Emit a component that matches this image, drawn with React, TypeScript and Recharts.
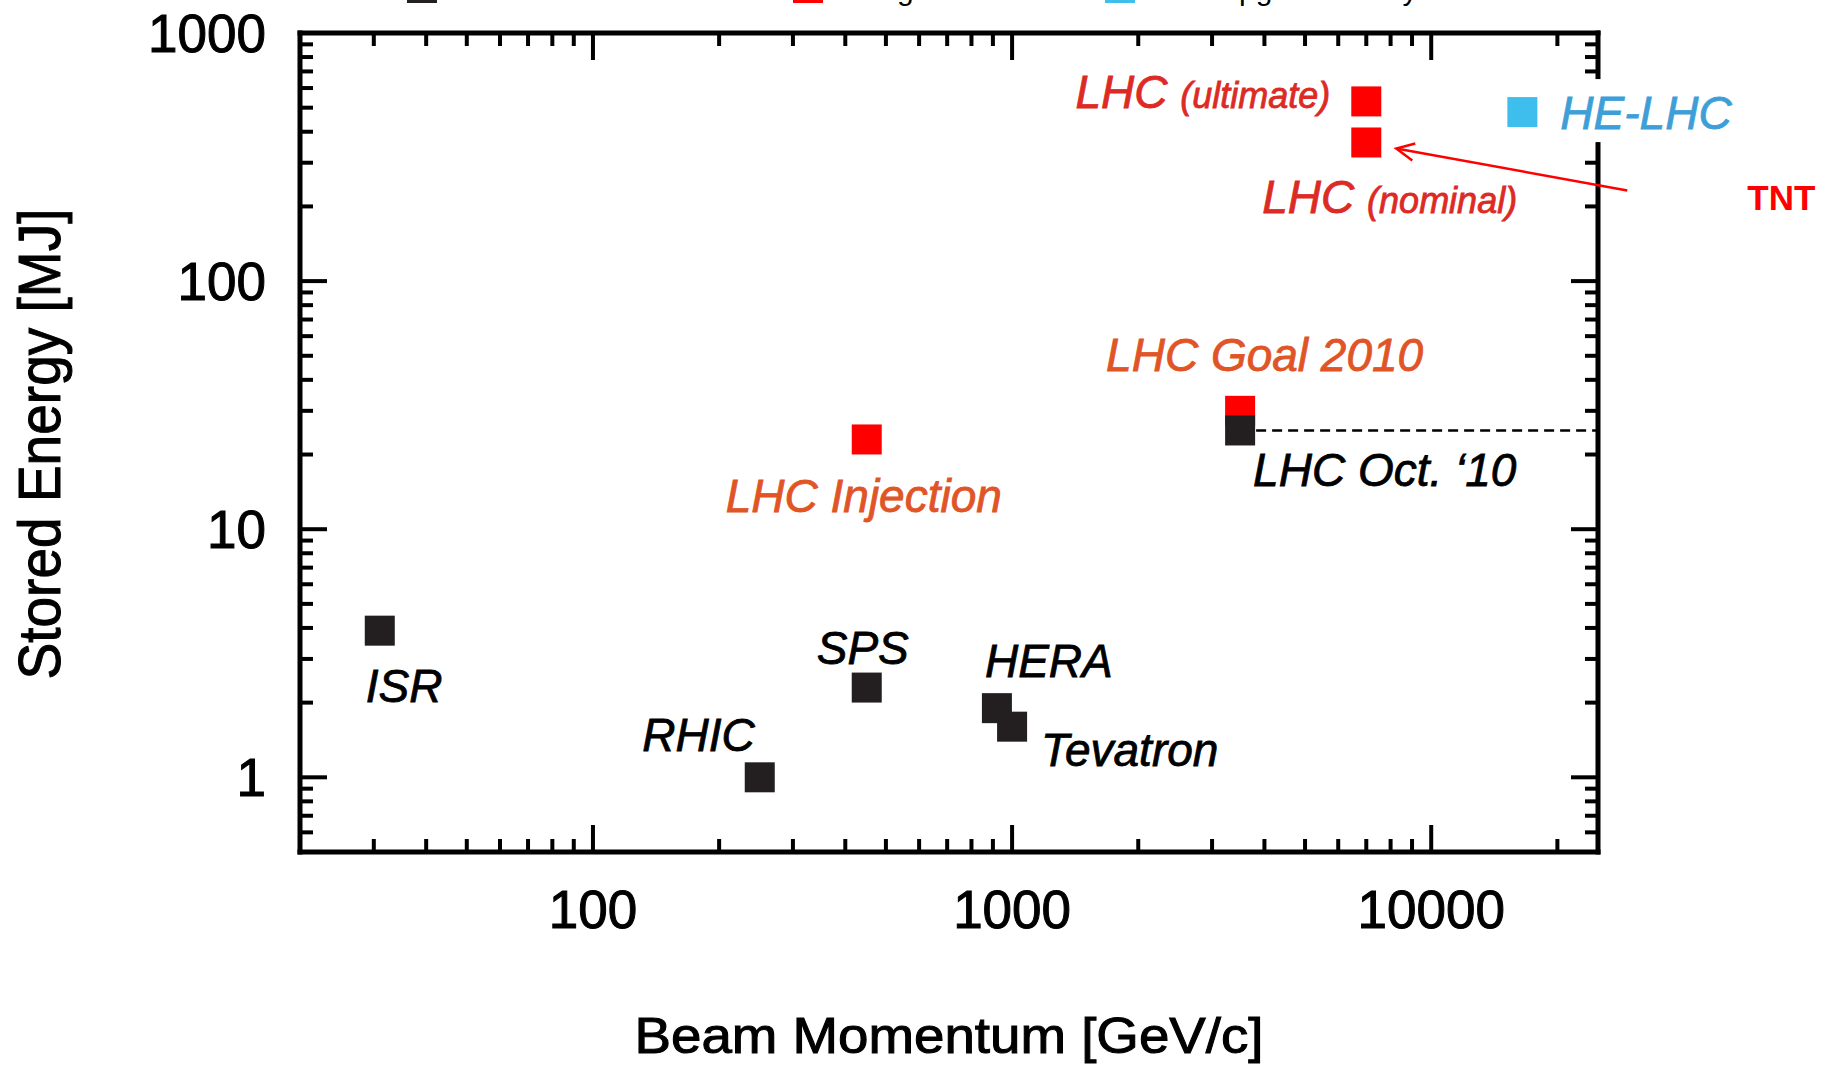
import React from 'react';
import { ScatterChart, Scatter, XAxis, YAxis, ReferenceLine } from 'recharts';

// machines that have run (black)
const ACHIEVED_NAMES = ['ISR', 'RHIC', 'SPS', 'HERA', 'Tevatron', 'LHC Oct. ‘10'];
const ACHIEVED_MOMENTUM = [31, 250, 450, 920, 1000, 3500];
const ACHIEVED_ENERGY = [3.9, 1.0, 2.3, 1.9, 1.6, 25];

// LHC design values (red)
const DESIGN_NAMES = ['LHC Injection', 'LHC Goal 2010', 'LHC (nominal)', 'LHC (ultimate)'];
const DESIGN_MOMENTUM = [450, 3500, 7000, 7000];
const DESIGN_ENERGY = [23, 30, 362, 530];

// upgrade study (blue)
const UPGRADE_NAMES = ['HE-LHC'];
const UPGRADE_MOMENTUM = [16500];
const UPGRADE_ENERGY = [480];

const X_TICKS = [
  20, 30, 40, 50, 60, 70, 80, 90,
  100, 200, 300, 400, 500, 600, 700, 800, 900,
  1000, 2000, 3000, 4000, 5000, 6000, 7000, 8000, 9000,
  10000, 20000,
];
const X_LABELS = [100, 1000, 10000];
const Y_TICKS = [
  0.5, 0.6, 0.7, 0.8, 0.9,
  1, 2, 3, 4, 5, 6, 7, 8, 9,
  10, 20, 30, 40, 50, 60, 70, 80, 90,
  100, 200, 300, 400, 500, 600, 700, 800, 900,
  1000,
];
const Y_LABELS = [1, 10, 100, 1000];

const LEGEND_NAMES = ['Achieved', 'Design', 'LHC Upgrade Study'];

const build = (names: string[], p: number[], e: number[]) =>
  names.map((name, i) => ({ name, p: p[i], e: e[i] }));

const achieved = build(ACHIEVED_NAMES, ACHIEVED_MOMENTUM, ACHIEVED_ENERGY);
const design = build(DESIGN_NAMES, DESIGN_MOMENTUM, DESIGN_ENERGY);
const upgrade = build(UPGRADE_NAMES, UPGRADE_MOMENTUM, UPGRADE_ENERGY);

const FONT = '"Liberation Sans", Arial, Helvetica, sans-serif';
const BLACK = '#231f20';
const RED = '#ff0000';
const BLUE = '#3dbeed';
const LABEL_RED = '#dc2a24';
const ORANGE = '#e05426';
const LABEL_BLUE = '#3e9fd8';

const W = 1822;
const H = 1068;
const SQ = 30;
const MAJOR = 27;
const MINOR = 13;
const TICK_W = 4;

type Note = {
  dx: number;
  dy: number;
  anchor: 'start' | 'middle' | 'end';
  color: string;
  main: string;
  sub?: string;
  box?: boolean;
  arrow?: boolean;
};

// label placement relative to each square's centre
const NOTES: Record<string, Note> = {
  ISR: { dx: -14, dy: 71, anchor: 'start', color: '#000', main: 'ISR' },
  RHIC: { dx: -5, dy: -26, anchor: 'end', color: '#000', main: 'RHIC' },
  SPS: { dx: -4, dy: -24, anchor: 'middle', color: '#000', main: 'SPS' },
  HERA: { dx: -12, dy: -31, anchor: 'start', color: '#000', main: 'HERA' },
  Tevatron: { dx: 29, dy: 39, anchor: 'start', color: '#000', main: 'Tevatron' },
  'LHC Oct. ‘10': { dx: 13, dy: 56, anchor: 'start', color: '#000', main: 'LHC Oct. ‘10' },
  'LHC Injection': { dx: -141, dy: 73, anchor: 'start', color: ORANGE, main: 'LHC Injection' },
  'LHC Goal 2010': { dx: -134, dy: -40, anchor: 'start', color: ORANGE, main: 'LHC Goal 2010' },
  'LHC (nominal)': { dx: -104, dy: 71, anchor: 'start', color: LABEL_RED, main: 'LHC', sub: '(nominal)', arrow: true },
  'LHC (ultimate)': { dx: -36, dy: 7, anchor: 'end', color: LABEL_RED, main: 'LHC', sub: '(ultimate)' },
  'HE-LHC': { dx: 38, dy: 17, anchor: 'start', color: LABEL_BLUE, main: 'HE-LHC', box: true },
};

const makeShape = (fill: string) => (props: any) => {
  const { cx, cy, payload } = props;
  const note = NOTES[payload.name];
  return (
    <g>
      <rect x={cx - SQ / 2} y={cy - SQ / 2} width={SQ} height={SQ} fill={fill} />
      {note && note.box && (
        <rect x={cx + 28} y={cy - 33} width={194} height={63} fill="#fff" />
      )}
      {note && (
        <text
          x={cx + note.dx}
          y={cy + note.dy}
          textAnchor={note.anchor}
          fill={note.color}
          stroke={note.color}
          strokeWidth={0.8}
          fontSize={46}
          fontStyle="italic"
          fontFamily={FONT}
        >
          {note.sub ? note.main + ' ' : note.main}
          {note.sub && <tspan fontSize={36}>{note.sub}</tspan>}
        </text>
      )}
      {note && note.arrow && (
        <g>
          <g stroke={RED} strokeWidth={2.5} fill="none">
            <line x1={cx + 261} y1={cy + 48} x2={cx + 30} y2={cy + 6} />
            <polyline points={`${cx + 49},${cy + 1} ${cx + 30},${cy + 6} ${cx + 46},${cy + 18}`} />
          </g>
          <text x={cx + 381} y={cy + 68} fill={RED} fontSize={35} fontWeight="bold" fontFamily={FONT}>
            TNT
          </text>
        </g>
      )}
    </g>
  );
};

const noMark = () => <g />;

const tickText = { fontSize: 53, fontFamily: FONT, fill: '#000', stroke: '#000', strokeWidth: 1 };

const BottomTick = (props: any) => {
  const { x, y, payload } = props;
  const major = X_LABELS.includes(payload.value);
  return (
    <g>
      <line x1={x} x2={x} y1={y} y2={y - (major ? MAJOR : MINOR)} stroke="#000" strokeWidth={TICK_W} />
      {major && (
        <text x={x} y={y + 76} textAnchor="middle" {...tickText}>
          {payload.value}
        </text>
      )}
    </g>
  );
};

const TopTick = (props: any) => {
  const { x, y, payload } = props;
  const major = X_LABELS.includes(payload.value);
  return <line x1={x} x2={x} y1={y} y2={y + (major ? MAJOR : MINOR)} stroke="#000" strokeWidth={TICK_W} />;
};

const LeftTick = (props: any) => {
  const { x, y, payload } = props;
  const major = Y_LABELS.includes(payload.value);
  return (
    <g>
      <line x1={x} x2={x + (major ? MAJOR : MINOR)} y1={y} y2={y} stroke="#000" strokeWidth={TICK_W} />
      {major && (
        <text x={x - 34} y={y + 19} textAnchor="end" {...tickText}>
          {payload.value}
        </text>
      )}
    </g>
  );
};

const RightTick = (props: any) => {
  const { x, y, payload } = props;
  const major = Y_LABELS.includes(payload.value);
  return <line x1={x} x2={x - (major ? MAJOR : MINOR)} y1={y} y2={y} stroke="#000" strokeWidth={TICK_W} />;
};

const frame = { stroke: '#000', strokeWidth: 5, strokeLinecap: 'square' as const };
const xDomain: [number, number] = [20, 25000];
const yDomain: [number, number] = [0.5, 1000];

const LEGEND_COLORS = [BLACK, RED, BLUE];
const LEGEND_X = [407, 793, 1105];

const App: React.FC = () => {
  return (
    <div style={{ position: 'absolute', left: 0, top: 0, width: W, height: H, background: '#fff' }}>
      <ScatterChart width={W} height={H} margin={{ top: 32, right: 223, bottom: 0, left: 0 }}>
        <XAxis
          xAxisId="b"
          dataKey="p"
          type="number"
          scale="log"
          domain={xDomain}
          ticks={X_TICKS}
          interval={0}
          height={216}
          tickSize={0}
          tickMargin={0}
          tickLine={false}
          axisLine={frame}
          tick={BottomTick}
        />
        <XAxis
          xAxisId="t"
          orientation="top"
          dataKey="p"
          type="number"
          scale="log"
          domain={xDomain}
          ticks={X_TICKS}
          interval={0}
          height={1}
          tickSize={0}
          tickMargin={0}
          tickLine={false}
          axisLine={frame}
          tick={TopTick}
        />
        <YAxis
          yAxisId="l"
          dataKey="e"
          type="number"
          scale="log"
          domain={yDomain}
          ticks={Y_TICKS}
          interval={0}
          width={300}
          tickSize={0}
          tickMargin={0}
          tickLine={false}
          axisLine={frame}
          tick={LeftTick}
        />
        <YAxis
          yAxisId="r"
          orientation="right"
          dataKey="e"
          type="number"
          scale="log"
          domain={yDomain}
          ticks={Y_TICKS}
          interval={0}
          width={1}
          tickSize={0}
          tickMargin={0}
          tickLine={false}
          axisLine={frame}
          tick={RightTick}
        />
        {/* mirrored top/right axes carry the same points, drawn invisibly */}
        <Scatter xAxisId="t" yAxisId="r" data={achieved} shape={noMark} isAnimationActive={false} />
        <ReferenceLine
          xAxisId="b"
          yAxisId="l"
          segment={[
            { x: ACHIEVED_MOMENTUM[5], y: ACHIEVED_ENERGY[5] },
            { x: xDomain[1], y: ACHIEVED_ENERGY[5] },
          ]}
          stroke="#000"
          strokeWidth={2.5}
          strokeDasharray="10 6"
          ifOverflow="visible"
        />
        <Scatter xAxisId="b" yAxisId="l" data={design} shape={makeShape(RED)} isAnimationActive={false} zIndex={2000} />
        <Scatter xAxisId="b" yAxisId="l" data={upgrade} shape={makeShape(BLUE)} isAnimationActive={false} zIndex={2000} />
        <Scatter xAxisId="b" yAxisId="l" data={achieved} shape={makeShape(BLACK)} isAnimationActive={false} zIndex={2000} />
      </ScatterChart>

      {/* axis titles and the legend row running off the top edge */}
      <svg
        width={W}
        height={H}
        style={{ position: 'absolute', left: 0, top: 0, pointerEvents: 'none' }}
        fontFamily={FONT}
      >
        {LEGEND_NAMES.map((name, i) => (
          <g key={name}>
            <rect x={LEGEND_X[i]} y={-27} width={SQ} height={SQ} fill={LEGEND_COLORS[i]} />
            <text x={LEGEND_X[i] + 44} y={0} fontSize={30} fill="#000">
              {name}
            </text>
          </g>
        ))}
        <text
          x={949}
          y={1053}
          textAnchor="middle"
          fontSize={50}
          textLength={629}
          lengthAdjust="spacingAndGlyphs"
          fill="#000"
          stroke="#000"
          strokeWidth={1}
        >
          Beam Momentum [GeV/c]
        </text>
        <text
          x={60}
          y={444}
          transform="rotate(-90 60 444)"
          textAnchor="middle"
          fontSize={60}
          textLength={471}
          lengthAdjust="spacingAndGlyphs"
          fill="#000"
          stroke="#000"
          strokeWidth={1}
        >
          Stored Energy [MJ]
        </text>
      </svg>
    </div>
  );
};

export default App;
